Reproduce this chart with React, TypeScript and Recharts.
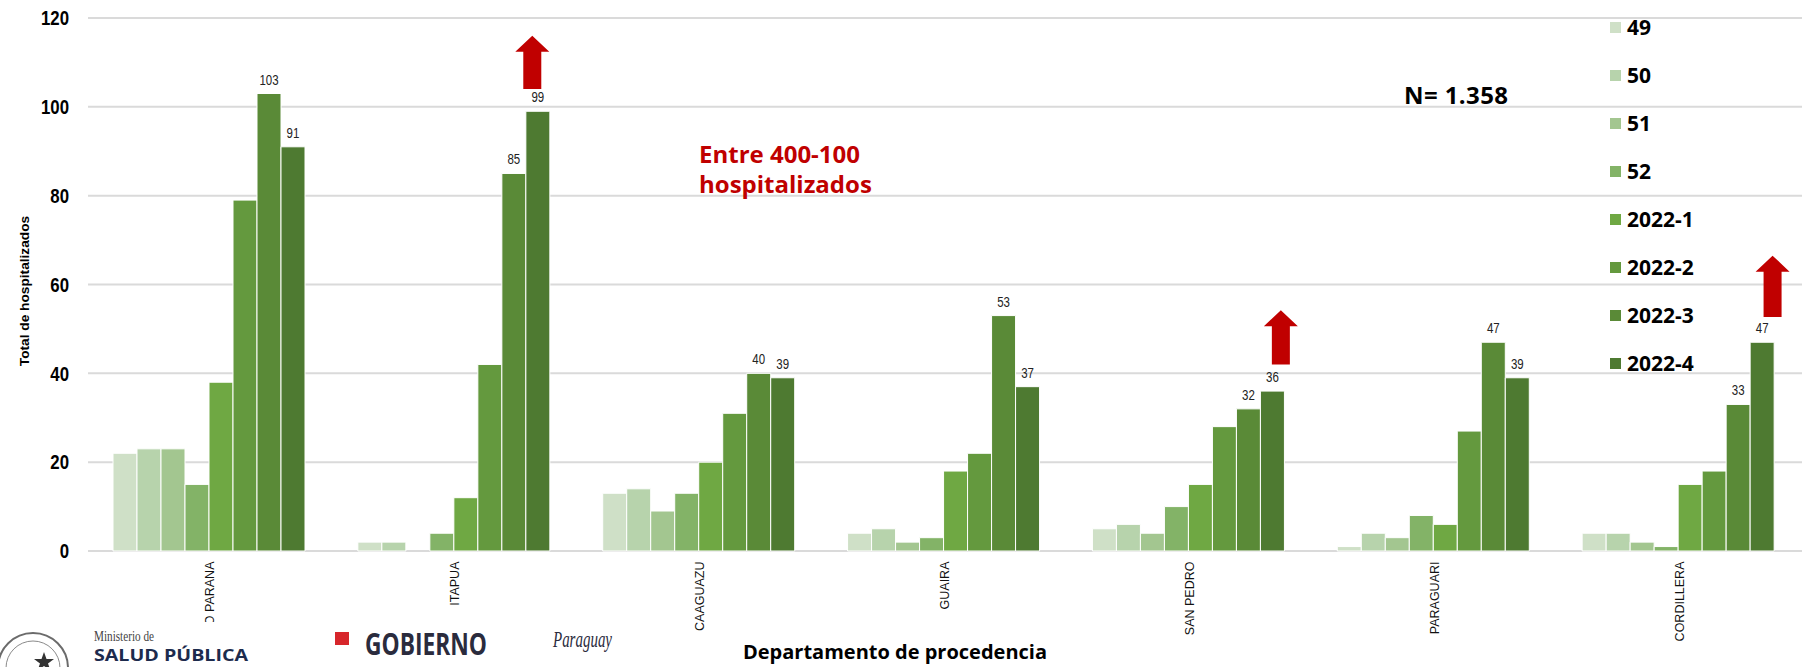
import { BarChart, Bar, XAxis, YAxis, CartesianGrid, LabelList, Legend, ReferenceLine } from 'recharts'

// departamentos y semanas epidemiológicas
const departments = ['ALTO PARANA', 'ITAPUA', 'CAAGUAZU', 'GUAIRA', 'SAN PEDRO', 'PARAGUARI', 'CORDILLERA']
const weeks = ['49', '50', '51', '52', '2022-1', '2022-2', '2022-3', '2022-4']
const weekColors = ['#cfe0c7', '#b7d3ac', '#a3c690', '#83b367', '#6fa843', '#64993e', '#5a8a37', '#4e7a31']

const se49 = [22, 2, 13, 4, 5, 1, 4]
const se50 = [23, 2, 14, 5, 6, 4, 4]
const se51 = [23, 0, 9, 2, 4, 3, 2]
const se52 = [15, 4, 13, 3, 10, 8, 1]
const se2022_1 = [38, 12, 20, 18, 15, 6, 15]
const se2022_2 = [79, 42, 31, 22, 28, 27, 18]
const se2022_3 = [103, 85, 40, 53, 32, 47, 33]
const se2022_4 = [91, 99, 39, 37, 36, 39, 47]

const yTicks = [0, 20, 40, 60, 80, 100, 120]
const labelledWeeks = ['2022-3', '2022-4']

// flechas rojas (valores en escala del eje Y)
const arrows = [
  { dept: 'ITAPUA', from: 104, to: 116 },
  { dept: 'SAN PEDRO', from: 42, to: 54.2 },
  { dept: 'CORDILLERA', from: 52.7, to: 66.5 },
]
const arrowNudge: Record<string, number> = { ITAPUA: 77, 'SAN PEDRO': 91, CORDILLERA: 93 }

const seriesValues = [se49, se50, se51, se52, se2022_1, se2022_2, se2022_3, se2022_4]
const data = departments.map((dept, i) => {
  const row: Record<string, string | number> = { dept }
  weeks.forEach((w, k) => {
    row[w] = seriesValues[k][i]
  })
  return row
})

const ARIAL = "'Liberation Sans', Arial, sans-serif"
const SEGOE = "'Open Sans', 'Noto Sans', sans-serif"

function DeptTick({ x, y, payload }: any) {
  return (
    <text
      x={x}
      y={y}
      transform={`rotate(-90, ${x}, ${y})`}
      textAnchor="end"
      dominantBaseline="central"
      fontFamily={ARIAL}
      fontSize={12.5}
      fill="#111"
    >
      {payload.value}
    </text>
  )
}

// números del eje Y en letra angosta (Arial Narrow en el original)
function NarrowTick({ x, y, payload }: any) {
  return (
    <text
      transform={`translate(${x}, ${y}) scale(0.8, 1)`}
      textAnchor="end"
      dominantBaseline="central"
      fontFamily={ARIAL}
      fontWeight={700}
      fontSize={21}
      fill="#000"
    >
      {payload.value}
    </text>
  )
}

function BarValue({ x, y, width, value }: any) {
  return (
    <text
      transform={`translate(${x + width / 2}, ${y - 9}) scale(0.82, 1)`}
      textAnchor="middle"
      fontFamily={ARIAL}
      fontSize={14}
      fill="#222"
    >
      {value}
    </text>
  )
}

function ArrowShape(props: any) {
  const { x1, y1, y2, nudge } = props
  const cx = x1 + nudge
  const head = 16
  const hw = 17
  const sw = 9
  const d = `M${cx},${y2} L${cx + hw},${y2 + head} L${cx + sw},${y2 + head} L${cx + sw},${y1} L${cx - sw},${y1} L${cx - sw},${y2 + head} L${cx - hw},${y2 + head} Z`
  return <path d={d} fill="#c00000" />
}

function WeekLegend() {
  return (
    <div>
      {weeks.map((w, i) => (
        <div key={w} style={{ display: 'flex', alignItems: 'center', height: 48 }}>
          <span style={{ width: 11, height: 11, background: weekColors[i], marginRight: 6 }} />
          <span style={{ fontFamily: SEGOE, fontWeight: 700, fontSize: 21, color: '#000' }}>{w}</span>
        </div>
      ))}
    </div>
  )
}

export default function App() {
  return (
    <div style={{ position: 'fixed', left: 0, top: 0, width: 1805, height: 667, background: '#fff' }}>
      <BarChart
        width={1805}
        height={667}
        data={data}
        margin={{ top: 18, right: 3, left: 0, bottom: 0 }}
        barCategoryGap={25}
        barGap={0}
      >
        <CartesianGrid vertical={false} stroke="#dadada" strokeWidth={2} />
        <XAxis
          dataKey="dept"
          interval={0}
          height={116}
          axisLine={false}
          tickLine={false}
          tickSize={0}
          tickMargin={10.5}
          tick={<DeptTick />}
        />
        <YAxis
          domain={[0, 120]}
          ticks={yTicks}
          width={88}
          axisLine={false}
          tickLine={false}
          tickSize={0}
          tickMargin={19}
          tick={<NarrowTick />}
        />
        <Legend
          layout="vertical"
          align="center"
          verticalAlign="middle"
          content={<WeekLegend />}
          wrapperStyle={{ position: 'absolute', left: 1610, top: 3, width: 190, height: 390 }}
        />
        {weeks.map((w, i) => (
          <Bar key={w} dataKey={w} fill={weekColors[i]} stroke="#ffffff" strokeWidth={1} isAnimationActive={false}>
            {labelledWeeks.includes(w) && <LabelList dataKey={w} content={<BarValue />} />}
          </Bar>
        ))}
        {arrows.map((a) => (
          <ReferenceLine
            key={a.dept}
            ifOverflow="visible"
            segment={[
              { x: a.dept, y: a.from },
              { x: a.dept, y: a.to },
            ]}
            shape={(p: any) => <ArrowShape {...p} nudge={arrowNudge[a.dept]} />}
          />
        ))}
      </BarChart>

      <svg
        width={1805}
        height={667}
        style={{ position: 'absolute', left: 0, top: 0, pointerEvents: 'none' }}
      >
        <text
          x={29.3}
          y={291}
          transform="rotate(-90, 29.3, 291)"
          textAnchor="middle"
          fontFamily={ARIAL}
          fontWeight={700}
          fontSize={13.7}
          fill="#000"
        >
          Total de hospitalizados
        </text>
        <text x={699} y={163.3} fontFamily={SEGOE} fontWeight={700} fontSize={24} fill="#c00000">
          Entre 400-100
        </text>
        <text x={699} y={192.7} fontFamily={SEGOE} fontWeight={700} fontSize={24} fill="#c00000">
          hospitalizados
        </text>
        <text x={1404} y={104} fontFamily={SEGOE} fontWeight={700} fontSize={24} fill="#000" textLength={104}>
          N= 1.358
        </text>
        <text
          x={743}
          y={659}
          fontFamily={SEGOE}
          fontWeight={700}
          fontSize={20}
          fill="#000"
          textLength={304}
          lengthAdjust="spacingAndGlyphs"
        >
          Departamento de procedencia
        </text>

        {/* pie de logos */}
        <rect x={0} y={622} width={650} height={45} fill="#fff" />
        <circle cx={33} cy={668} r={35} fill="none" stroke="#6b6b6b" strokeWidth={2} />
        <circle cx={33} cy={668} r={27} fill="none" stroke="#8a8a8a" strokeWidth={1} />
        <polygon
          points="44,652 46.5,659 54,659 48,663.5 50.5,670.5 44,666 37.5,670.5 40,663.5 34,659 41.5,659"
          fill="#333"
        />
        <text x={94} y={641} fontFamily="'Liberation Serif', serif" fontSize={14} fill="#444" textLength={60} lengthAdjust="spacingAndGlyphs">
          Ministerio de
        </text>
        <text x={94} y={661} fontFamily={SEGOE} fontWeight={700} fontSize={16} fill="#1d2b4d" textLength={154} lengthAdjust="spacingAndGlyphs">
          SALUD PÚBLICA
        </text>
        <rect x={335} y={632} width={14} height={13} fill="#d7262b" />
        <text x={365} y={655} fontFamily={SEGOE} fontWeight={700} fontSize={31} fill="#2a2b3d" textLength={122} lengthAdjust="spacingAndGlyphs">
          GOBIERNO
        </text>
        <text x={553} y={647} fontFamily="'Liberation Serif', serif" fontStyle="italic" fontSize={24} fill="#2a2b3d" textLength={59} lengthAdjust="spacingAndGlyphs">
          Paraguay
        </text>
      </svg>
    </div>
  )
}
